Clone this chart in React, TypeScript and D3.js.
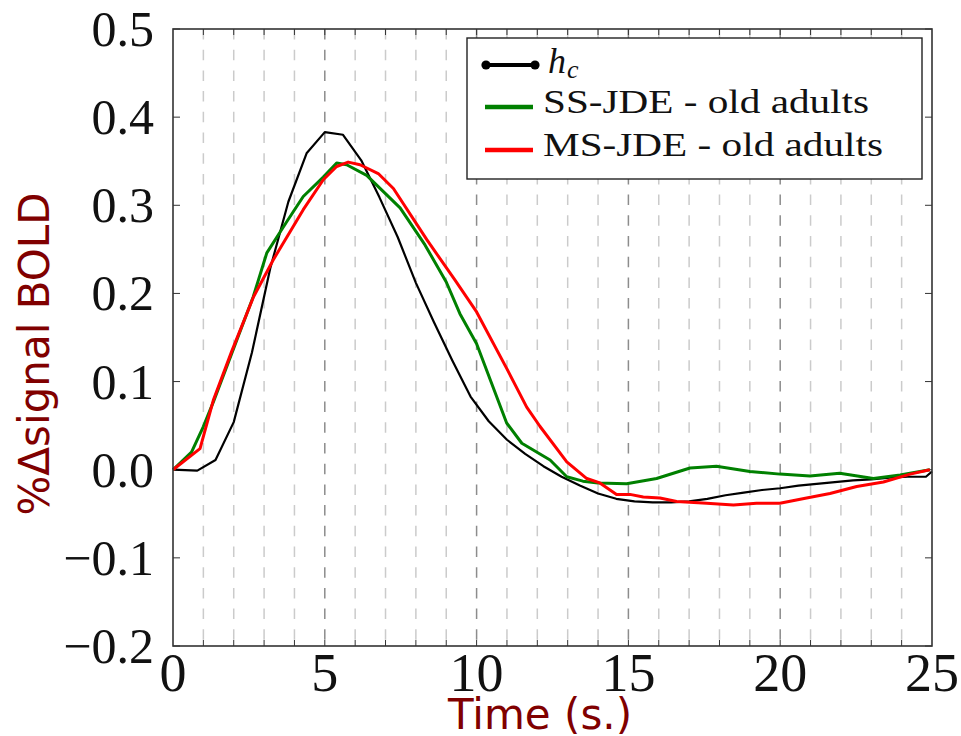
import React from "react";
import * as d3 from "d3";

// ---- data ----
const hcTime = [0, 0.8, 1.4, 2.0, 2.6, 3.2, 3.8, 4.4, 5.0, 5.6, 6.2, 6.8, 7.4, 8.0, 8.6, 9.2, 9.8, 10.4, 11.0, 11.6, 12.2, 12.8, 13.4, 14.0, 14.6, 15.2, 15.8, 16.4, 17.0, 17.6, 18.2, 18.8, 19.4, 20.0, 20.6, 21.2, 21.8, 22.4, 23.0, 23.6, 24.2, 24.8, 25.0];
const hcValue = [0, -0.001, 0.011, 0.054, 0.133, 0.228, 0.304, 0.359, 0.383, 0.380, 0.351, 0.309, 0.264, 0.212, 0.167, 0.124, 0.083, 0.055, 0.034, 0.018, 0.004, -0.008, -0.018, -0.027, -0.033, -0.036, -0.037, -0.037, -0.036, -0.033, -0.029, -0.026, -0.023, -0.021, -0.018, -0.016, -0.014, -0.012, -0.011, -0.009, -0.008, -0.008, -0.002];

const ssTime = [0, 0.61, 1.0, 1.33, 2.1, 2.64, 3.09, 3.74, 4.29, 4.95, 5.39, 5.72, 6.38, 7.48, 8.3, 9.0, 9.45, 10.0, 10.99, 11.49, 12.42, 12.97, 13.5, 14.0, 14.94, 15.93, 17.03, 17.9, 19.0, 19.99, 20.98, 21.96, 23.07, 23.95, 24.93];
const ssValue = [0, 0.020, 0.049, 0.077, 0.147, 0.196, 0.246, 0.281, 0.310, 0.332, 0.348, 0.346, 0.334, 0.297, 0.255, 0.213, 0.177, 0.143, 0.053, 0.030, 0.011, -0.008, -0.013, -0.015, -0.016, -0.010, 0.002, 0.004, -0.002, -0.005, -0.007, -0.004, -0.010, -0.006, 0];

const msTime = [0, 0.89, 1.33, 1.93, 2.65, 3.3, 4.29, 4.95, 5.39, 5.77, 6.16, 6.76, 7.26, 8.36, 9.29, 10.0, 10.99, 11.65, 12.09, 12.97, 13.63, 14.06, 14.61, 15.05, 15.49, 16.04, 16.59, 17.58, 18.46, 19.22, 19.99, 20.87, 21.64, 22.52, 23.4, 24.28, 24.93];
const msValue = [0, 0.024, 0.079, 0.134, 0.196, 0.238, 0.295, 0.329, 0.344, 0.349, 0.346, 0.336, 0.319, 0.261, 0.215, 0.179, 0.115, 0.071, 0.049, 0.009, -0.010, -0.015, -0.028, -0.028, -0.031, -0.032, -0.036, -0.038, -0.040, -0.038, -0.038, -0.032, -0.027, -0.019, -0.014, -0.005, 0];

const xTickLabels = [0, 5, 10, 15, 20, 25];
const yTickLabels = [0.5, 0.4, 0.3, 0.2, 0.1, 0.0, -0.1, -0.2];
const gridSeconds = d3.range(1, 25);
const legendLabels = ["SS-JDE - old adults", "MS-JDE - old adults"];

// ---- layout ----
const W = 961, H = 736;
const L = 173, R = 932, T = 29, B = 646;

export default function App() {
  const x = d3.scaleLinear().domain([0, 25]).range([L, R]);
  const y = d3.scaleLinear().domain([-0.2, 0.5]).range([B, T]);
  const line = d3.line<[number, number]>().x(d => x(d[0])).y(d => y(d[1]));
  const zip = (t: number[], v: number[]) => t.map((ti, i) => [ti, v[i]] as [number, number]);

  const fmt = (v: number) => (v < 0 ? "\u2212" : "") + Math.abs(v).toFixed(1);
  const serif = "'Liberation Serif', 'Times New Roman', serif";
  const sans = "'DejaVu Sans', sans-serif";
  const titleColor = "#800000";

  return (
    <svg width={W} height={H} style={{ position: "absolute", left: 0, top: 0, background: "#fff" }}>
      <rect x={0} y={0} width={W} height={H} fill="#fff" />
      {/* grid */}
      {gridSeconds.map(s => (
        <line key={"g" + s} x1={x(s)} x2={x(s)} y1={T} y2={B}
          stroke={s % 5 === 0 ? "#8c8c8c" : "#cbcbcb"} strokeWidth={1.5}
          strokeDasharray="10.5,10.2" />
      ))}
      {/* ticks */}
      {d3.range(1, 25).map(s => (
        <g key={"t" + s} stroke="#333" strokeWidth={1}>
          <line x1={x(s)} x2={x(s)} y1={B} y2={B - 6} />
          <line x1={x(s)} x2={x(s)} y1={T} y2={T + 6} />
        </g>
      ))}
      {yTickLabels.map(v => (
        <g key={"yt" + v} stroke="#333" strokeWidth={1}>
          <line x1={L} x2={L + 7} y1={y(v)} y2={y(v)} />
          <line x1={R} x2={R - 7} y1={y(v)} y2={y(v)} />
        </g>
      ))}
      {/* curves */}
      <path d={line(zip(hcTime, hcValue)) || ""} fill="none" stroke="#000" strokeWidth={2.2} strokeLinejoin="round" />
      <path d={line(zip(ssTime, ssValue)) || ""} fill="none" stroke="#008000" strokeWidth={3} strokeLinejoin="round" />
      <path d={line(zip(msTime, msValue)) || ""} fill="none" stroke="#ff0000" strokeWidth={3} strokeLinejoin="round" />
      {/* frame */}
      <rect x={L} y={T} width={R - L} height={B - T} fill="none" stroke="#333" strokeWidth={1.6} />
      {/* tick labels */}
      {yTickLabels.map(v => (
        <text key={"yl" + v} x={154} y={y(v) + 17} textAnchor="end" fontFamily={serif} fontSize={50} fill="#111">
          {fmt(v)}
        </text>
      ))}
      {xTickLabels.map(v => (
        <text key={"xl" + v} x={x(v)} y={691} textAnchor="middle" fontFamily={serif} fontSize={54} fill="#111">
          {v}
        </text>
      ))}
      {/* axis titles */}
      <text x={540} y={729} textAnchor="middle" fontFamily={sans} fontSize={42} fill={titleColor}>Time (s.)</text>
      <text transform="translate(48.5,354) rotate(-90)" textAnchor="middle" fontFamily={sans} fontSize={42} fill={titleColor}>%Δsignal BOLD</text>
      {/* legend */}
      <rect x={467} y={38} width={455} height={141} fill="#fff" stroke="#222" strokeWidth={1.4} />
      <line x1={485} x2={536} y1={65} y2={65} stroke="#000" strokeWidth={4} />
      <circle cx={486} cy={65} r={4.6} fill="#000" />
      <circle cx={535} cy={65} r={4.6} fill="#000" />
      <text x={548} y={73} fontFamily={serif} fontSize={36} fontStyle="italic" fill="#111">
        h<tspan dx={1} dy={5} fontSize={26}>c</tspan>
      </text>
      <line x1={485} x2={533} y1={107} y2={107} stroke="#008000" strokeWidth={4.5} />
      <text x={543} y={113} fontFamily={serif} fontSize={33} fill="#111" textLength={326} lengthAdjust="spacingAndGlyphs">{legendLabels[0]}</text>
      <line x1={485} x2={533} y1={150} y2={150} stroke="#ff0000" strokeWidth={4.5} />
      <text x={543} y={156} fontFamily={serif} fontSize={33} fill="#111" textLength={340} lengthAdjust="spacingAndGlyphs">{legendLabels[1]}</text>
    </svg>
  );
}
